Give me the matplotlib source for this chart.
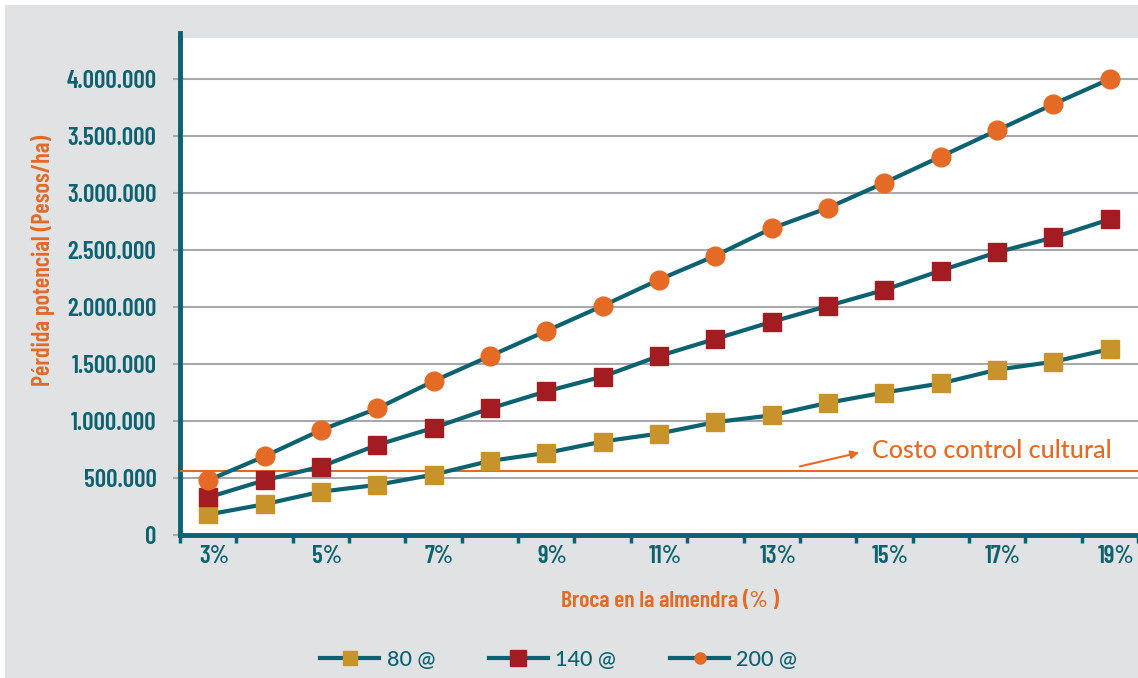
import matplotlib
matplotlib.use("Agg")
import matplotlib.pyplot as plt
from matplotlib.patches import Rectangle
from matplotlib.lines import Line2D
from matplotlib.transforms import ScaledTranslation

# Broca en la almendra (%)
pct = [3, 4, 5, 6, 7, 8, 9, 10, 11, 12, 13, 14, 15, 16, 17, 18, 19]
# pérdida potencial (pesos/ha) por producción
loss_80 = [180000, 270000, 380000, 440000, 530000, 650000, 720000, 820000, 890000,
           990000, 1050000, 1160000, 1250000, 1330000, 1450000, 1520000, 1630000]
loss_140 = [330000, 480000, 600000, 790000, 940000, 1110000, 1260000, 1390000, 1570000,
            1720000, 1870000, 2010000, 2150000, 2320000, 2480000, 2610000, 2770000]
loss_200 = [480000, 690000, 920000, 1110000, 1350000, 1570000, 1790000, 2010000, 2240000,
            2450000, 2690000, 2870000, 3090000, 3320000, 3550000, 3780000, 4000000]
cost_line = 565000
y_ticks = [0, 500000, 1000000, 1500000, 2000000, 2500000, 3000000, 3500000, 4000000]

TEAL = "#0d6271"
ORANGE = "#e46a25"
GOLD = "#c9932b"
RED = "#a31c22"
GRAY_BG = "#e1e2e3"
COND = dict(family="Barlow Condensed", fontweight=600)

fig = plt.figure(figsize=(11.38, 6.78), dpi=100, facecolor="white")
fig.patches.append(Rectangle((5 / 1138, 0), 1, 1 - 5 / 678, transform=fig.transFigure,
                             facecolor=GRAY_BG, edgecolor="none", zorder=-10))
ax = fig.add_axes([180 / 1138, 143 / 678, 958 / 1138, 497 / 678])
ax.set_facecolor("white")

x = list(range(len(pct)))
for vals, mk, col, ms, lab in [(loss_80, "s", GOLD, 12.5, "80 @"),
                               (loss_140, "s", RED, 13, "140 @"),
                               (loss_200, "o", ORANGE, 13.5, "200 @")]:
    ax.plot(x, vals, color=TEAL, lw=3, marker=mk, ms=ms, mfc=col, mec=col,
            label=lab, zorder=4)

ax.axhline(cost_line, color=ORANGE, lw=1.5, zorder=3)
ax.text(11.78, 745000, "Costo control cultural", fontsize=18, color=ORANGE,
        family="Lato", fontweight="medium", va="center", ha="left", zorder=5)
ax.annotate("", xy=(11.6, 728000), xytext=(10.45, 596000),
            arrowprops=dict(arrowstyle="-|>", color=ORANGE, lw=1.5, mutation_scale=12))

ax.set_xlim(-0.5, len(pct) - 0.5)
ax.set_ylim(0, 4360000)
ax.set_yticks(y_ticks)
ax.set_yticklabels([f"{v:,}".replace(",", ".") for v in y_ticks],
                   fontsize=18, color=TEAL, **COND)
ax.yaxis.grid(True, color="#a7a9ac", lw=1.5)
ax.set_axisbelow(True)
ax.tick_params(axis="y", length=5, width=1.5, color="#a7a9ac", pad=12)

ax.set_xticks([i - 0.5 for i in range(len(pct) + 1)], minor=True)
ax.set_xticks([i for i in x if pct[i] % 2 == 1])
ax.set_xticklabels([f"{pct[i]}%" for i in x if pct[i] % 2 == 1],
                   fontsize=18, color=TEAL, **COND)
ax.tick_params(axis="x", which="major", length=0, pad=7)
ax.tick_params(axis="x", which="minor", length=6, width=2.5, color=TEAL)
shift = ScaledTranslation(6 / 100, 0, fig.dpi_scale_trans)
for lbl in ax.get_xticklabels():
    lbl.set_transform(lbl.get_transform() + shift)

for s in ["top", "right"]:
    ax.spines[s].set_visible(False)
ax.spines["left"].set_color(TEAL)
ax.spines["left"].set_linewidth(3.5)
ax.spines["bottom"].set_color(TEAL)
ax.spines["bottom"].set_linewidth(3.5)
fig.add_artist(Line2D([180 / 1138, 180 / 1138], [640 / 678, 645 / 678], color=TEAL,
                      lw=3.5, transform=fig.transFigure))

ax.set_ylabel("Pérdida potencial (Pesos/ha)", fontsize=17.5, color=ORANGE, **COND)
ax.yaxis.set_label_coords(-0.1305, 0.553)
ax.set_xlabel("Broca en la almendra (% )", fontsize=17, color=ORANGE, **COND)
ax.xaxis.set_label_coords(0.512, -0.112)

handles, labels = ax.get_legend_handles_labels()
leg = fig.legend(handles, labels, loc="center", bbox_to_anchor=(0.491, 0.027), ncol=3,
                 frameon=False, handlelength=2.75, columnspacing=2.5,
                 handletextpad=0.33, prop={"family": "Lato", "size": 15.5,
                                           "weight": "medium"})
for t in leg.get_texts():
    t.set_color(TEAL)
for h, ms in zip(leg.legend_handles, [10, 11, 8]):
    h.set_markersize(ms)

fig.savefig("out.png", dpi=100, facecolor=fig.get_facecolor())
